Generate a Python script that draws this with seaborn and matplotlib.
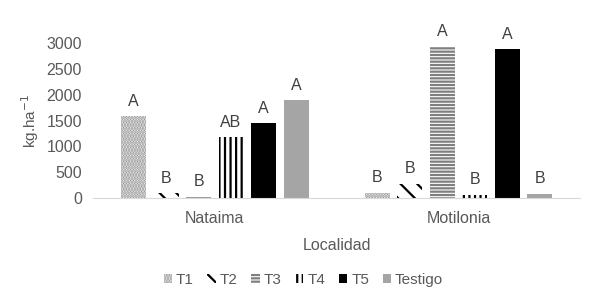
import pandas as pd
import matplotlib.pyplot as plt
import seaborn as sns

# data
localidades = ["Nataima", "Motilonia"]
tratamientos = ["T1", "T2", "T3", "T4", "T5", "Testigo"]
nataima = [1580, 90, 30, 1175, 1445, 1890]
motilonia = [100, 270, 2930, 60, 2880, 80]
letras_nataima = ["A", "B", "B", "AB", "A", "A"]
letras_motilonia = ["B", "B", "A", "B", "A", "B"]

rows = []
for t, v in zip(tratamientos, nataima):
    rows.append({"Localidad": "Nataima", "Tratamiento": t, "kg": v})
for t, v in zip(tratamientos, motilonia):
    rows.append({"Localidad": "Motilonia", "Tratamiento": t, "kg": v})
df = pd.DataFrame(rows)

sns.set_style("white")
plt.rcParams["font.family"] = ["Liberation Sans", "DejaVu Sans"]
plt.rcParams["hatch.linewidth"] = 1.6

grey = "#595959"

fig, ax = plt.subplots(figsize=(5.89, 2.93), dpi=100)
fig.subplots_adjust(left=0.158, right=0.985, bottom=0.324, top=0.853)

sns.barplot(
    data=df, x="Localidad", y="kg", hue="Tratamiento",
    order=localidades, hue_order=tratamientos,
    width=0.8, gap=0.23, ax=ax, legend=True
)

# fill / hatch style per treatment
styles = {
    "T1": dict(face="white", edge="#8c8c8c", hatch="......"),
    "T2": dict(face="white", edge="black", hatch="\\\\"),
    "T3": dict(face="white", edge="#7f7f7f", hatch="-----"),
    "T4": dict(face="white", edge="black", hatch="|||"),
    "T5": dict(face="black", edge="black", hatch=""),
    "Testigo": dict(face="#a5a5a5", edge="#a5a5a5", hatch=""),
}

letras = [letras_nataima, letras_motilonia]
for j, (t, cont) in enumerate(zip(tratamientos, ax.containers)):
    st = styles[t]
    for i, bar in enumerate(cont):
        bar.set_facecolor(st["face"])
        bar.set_edgecolor(st["edge"])
        bar.set_hatch(st["hatch"])
        bar.set_linewidth(0)
        ax.text(
            bar.get_x() + bar.get_width() / 2, bar.get_height() + 150,
            letras[i][j], ha="center", va="bottom",
            fontsize=11.5, color="#404040"
        )

ax.set_ylim(0, 3000)
ax.set_yticks([0, 500, 1000, 1500, 2000, 2500, 3000])
ax.tick_params(axis="both", labelsize=11.5, colors=grey, length=0)
ax.tick_params(axis="y", pad=8)
ax.tick_params(axis="x", pad=9)
ax.set_ylabel("kg.ha$^{-1}$", fontsize=11, color=grey, labelpad=4)
ax.set_xlabel("Localidad", fontsize=11.5, color=grey, labelpad=9)

for s in ["top", "right", "left"]:
    ax.spines[s].set_visible(False)
ax.spines["bottom"].set_color("#d9d9d9")

handles, labels = ax.get_legend_handles_labels()
for h, t in zip(handles, labels):
    st = styles[t]
    h.set_facecolor(st["face"])
    h.set_edgecolor(st["edge"])
    h.set_hatch(st["hatch"])
    h.set_linewidth(0)
ax.get_legend().remove()
fig.legend(
    handles, labels, loc="center", bbox_to_anchor=(0.515, 0.045),
    ncol=6, frameon=False, fontsize=11, handlelength=0.55,
    handleheight=0.55, handletextpad=0.25, columnspacing=0.9,
    labelcolor=grey
)

fig.savefig("out.png", dpi=100)
